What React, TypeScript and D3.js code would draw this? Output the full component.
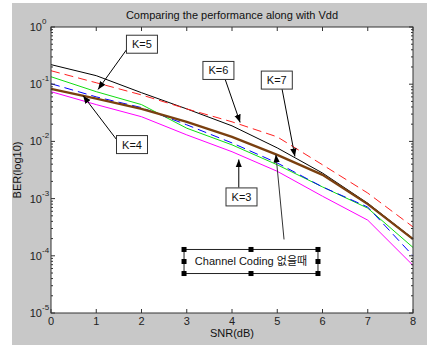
import * as d3 from "d3"

// SNR (dB) sample points
const snr = [0, 1, 2, 3, 4, 5, 6, 7, 8]

// BER curves
const berBlack = [0.22, 0.141, 0.071, 0.037, 0.0187, 0.0077, 0.0028, 0.00083, 0.0002]
const berRed = [0.172, 0.106, 0.065, 0.037, 0.022, 0.012, 0.0039, 0.00125, 0.00032]
const berGreen = [0.135, 0.074, 0.044, 0.017, 0.0087, 0.0039, 0.0016, 0.00068, 0.00014]
const berBlue = [0.102, 0.06, 0.039, 0.0195, 0.0094, 0.0042, 0.0016, 0.00071, 0.0001]
const berBrown = [0.083, 0.056, 0.037, 0.022, 0.012, 0.0058, 0.0026, 0.0008, 0.000195]
const berMagenta = [0.074, 0.044, 0.027, 0.013, 0.0066, 0.003, 0.0011, 0.00042, 0.000068]

const xTicks = [0, 1, 2, 3, 4, 5, 6, 7, 8]
const yExponents = [0, -1, -2, -3, -4, -5]

// text boxes: label, box centre and arrow ends in data units
const labels = ["K=5", "K=4", "K=6", "K=7", "K=3"]
const labelAt = [
  [2.01, 0.5],
  [1.79, 0.0088],
  [3.7, 0.174],
  [4.99, 0.118],
  [4.21, 0.00107],
]
const arrowFrom = [
  [1.72, 0.456],
  [1.48, 0.01],
  [3.85, 0.121],
  [5.1, 0.0876],
  [4.15, 0.00156],
]
const arrowTo = [
  [1.04, 0.081],
  [0.71, 0.063],
  [4.18, 0.0214],
  [5.39, 0.00545],
  [4.15, 0.00483],
]
const ccText = "Channel Coding 없을때"
const ccFrom = [5.15, 0.000193]
const ccTo = [4.97, 0.0059]
const ccBox = [[2.94, 0.000129], [5.9, 0.000049]]

const font = "'Liberation Sans', Arial, sans-serif"

export default function App() {
  const width = 427
  const height = 345
  const x = d3.scaleLinear().domain([0, 8]).range([51, 413])
  const y = d3.scaleLog().domain([1e-5, 1]).range([313, 27])

  const line = d3
    .line<number>()
    .x((_, i) => x(snr[i]))
    .y((d) => y(d))

  const series = [
    { data: berBlack, color: "#000000", w: 1, dash: "" },
    { data: berRed, color: "#ff2020", w: 1, dash: "9,5" },
    { data: berGreen, color: "#10dd10", w: 1, dash: "" },
    { data: berBlue, color: "#0000ff", w: 1, dash: "9,5" },
    { data: berMagenta, color: "#ff00ff", w: 1, dash: "" },
    { data: berBrown, color: "#7a4010", w: 2.3, dash: "" },
  ]

  const minor: number[] = []
  for (let e = -5; e < 0; e++) {
    for (let m = 2; m <= 9; m++) minor.push(m * Math.pow(10, e))
  }

  const [x0, x1] = x.range()
  const [yb, yt] = y.range()

  const cx0 = x(ccBox[0][0])
  const cx1 = x(ccBox[1][0])
  const cy0 = y(ccBox[0][1])
  const cy1 = y(ccBox[1][1])
  const handles = [
    [cx0, cy0], [(cx0 + cx1) / 2, cy0], [cx1, cy0],
    [cx0, (cy0 + cy1) / 2], [cx1, (cy0 + cy1) / 2],
    [cx0, cy1], [(cx0 + cx1) / 2, cy1], [cx1, cy1],
  ]

  return (
    <svg
      width={width}
      height={height}
      style={{ position: "absolute", left: 0, top: 0, display: "block" }}
      fontFamily={font}
    >
      <defs>
        <marker id="ah" viewBox="0 0 10 10" refX="10" refY="5" markerWidth="8" markerHeight="8" orient="auto">
          <path d="M0,1 L10,5 L0,9 Z" fill="#000" />
        </marker>
      </defs>
      <rect width={width} height={height} fill="#fff" />
      <rect x={12} y={3} width={width - 12} height={height - 3} fill="#c8c8c8" />
      <rect x={x0} y={yt} width={x1 - x0} height={yb - yt} fill="#fff" />

      {series.map((s, i) => (
        <path
          key={i}
          d={line(s.data) ?? ""}
          fill="none"
          stroke={s.color}
          strokeWidth={s.w}
          strokeDasharray={s.dash}
        />
      ))}

      {/* axes frame and ticks */}
      <rect x={x0} y={yt} width={x1 - x0} height={yb - yt} fill="none" stroke="#333" strokeWidth={1} />
      {xTicks.map((t) => (
        <g key={"x" + t}>
          <line x1={x(t)} x2={x(t)} y1={yb} y2={yb - 4} stroke="#333" />
          <line x1={x(t)} x2={x(t)} y1={yt} y2={yt + 4} stroke="#333" />
          <text x={x(t)} y={yb + 12} fontSize={11} textAnchor="middle" fill="#222">
            {t}
          </text>
        </g>
      ))}
      {yExponents.map((e) => (
        <g key={"y" + e}>
          <line x1={x0} x2={x0 + 4} y1={y(Math.pow(10, e))} y2={y(Math.pow(10, e))} stroke="#333" />
          <line x1={x1} x2={x1 - 4} y1={y(Math.pow(10, e))} y2={y(Math.pow(10, e))} stroke="#333" />
          <text x={42} y={y(Math.pow(10, e)) + 4} fontSize={11} textAnchor="end" fill="#222">
            10
          </text>
          <text x={42} y={y(Math.pow(10, e)) - 3} fontSize={8} textAnchor="start" fill="#222">
            {e === 0 ? "0" : "-" + Math.abs(e)}
          </text>
        </g>
      ))}
      {minor.map((v, i) => (
        <g key={"m" + i}>
          <line x1={x0} x2={x0 + 2} y1={y(v)} y2={y(v)} stroke="#333" />
          <line x1={x1} x2={x1 - 2} y1={y(v)} y2={y(v)} stroke="#333" />
        </g>
      ))}

      <text x={232} y={19} fontSize={11} textAnchor="middle" fill="#111">
        Comparing the performance along with Vdd
      </text>
      <text x={232} y={337} fontSize={11} textAnchor="middle" fill="#111">
        SNR(dB)
      </text>
      <text
        transform={`translate(21,${(yt + yb) / 2}) rotate(-90)`}
        fontSize={11}
        textAnchor="middle"
        fill="#111"
      >
        BER(log10)
      </text>

      {/* annotations */}
      {labels.map((l, i) => (
        <g key={l}>
          <line
            x1={x(arrowFrom[i][0])}
            y1={y(arrowFrom[i][1])}
            x2={x(arrowTo[i][0])}
            y2={y(arrowTo[i][1])}
            stroke="#000"
            strokeWidth={1}
            markerEnd="url(#ah)"
          />
          <rect
            x={x(labelAt[i][0]) - 15.5}
            y={y(labelAt[i][1]) - 9}
            width={31}
            height={18}
            fill="#fff"
            stroke="#333"
          />
          <text x={x(labelAt[i][0])} y={y(labelAt[i][1]) + 4} fontSize={11} textAnchor="middle" fill="#111">
            {l}
          </text>
        </g>
      ))}

      <line
        x1={x(ccFrom[0])}
        y1={y(ccFrom[1])}
        x2={x(ccTo[0])}
        y2={y(ccTo[1])}
        stroke="#333"
        strokeWidth={1}
        markerEnd="url(#ah)"
      />
      <rect x={cx0} y={cy0} width={cx1 - cx0} height={cy1 - cy0} fill="none" stroke="#222" />
      {handles.map(([hx, hy], i) => (
        <rect key={"h" + i} x={hx - 2.5} y={hy - 2.5} width={5} height={5} fill="#000" />
      ))}
      <text
        x={(cx0 + cx1) / 2}
        y={(cy0 + cy1) / 2 + 4}
        fontSize={11}
        textAnchor="middle"
        fill="#111"
        fontFamily={`${font}, 'Noto Sans CJK KR'`}
      >
        {ccText}
      </text>
    </svg>
  )
}
